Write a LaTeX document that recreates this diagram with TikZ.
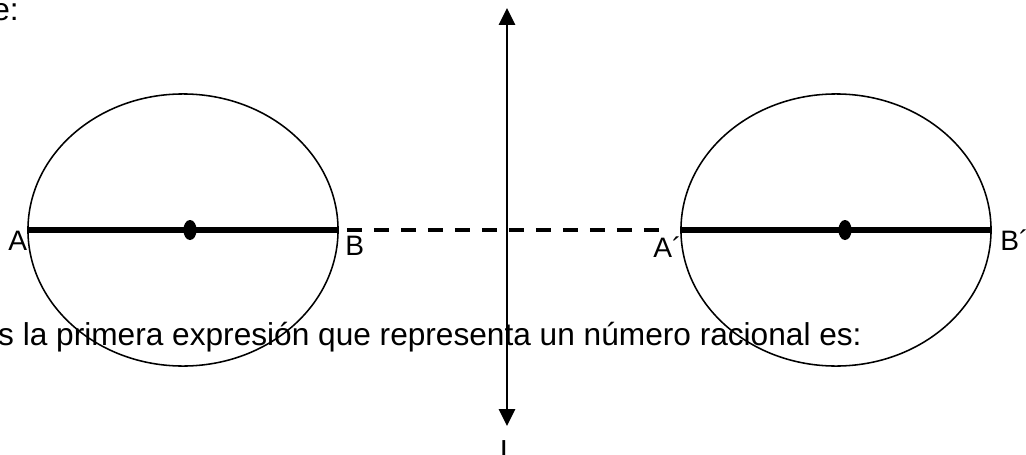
\documentclass[tikz,border=0pt]{standalone}
\usepackage{fontspec}
\setmainfont{Liberation Sans}
\usetikzlibrary{shapes.geometric,arrows.meta}

\begin{document}
\begin{tikzpicture}[x=0.025cm,y=-0.025cm,>={Triangle[width=0.4cm,length=0.42cm]}]
    \tikzstyle{ring}=[draw,ellipse,line width=1.1pt,inner sep=0pt,
      minimum width=7.75cm,minimum height=6.8cm]
    \tikzstyle{focus}=[fill,ellipse,inner sep=0pt,minimum width=0.33cm,minimum height=0.5cm]
    \tikzstyle{lbl}=[inner sep=0pt,font=\fontsize{20}{24}\selectfont]
    \tikzstyle{prose}=[inner sep=0pt,font=\fontsize{22.5}{27}\selectfont]
    \tikzstyle{rod}=[line width=3.6pt]
    \useasboundingbox (0,0) rectangle (1026,454);
    % text of the page around the figure
    \node[prose,anchor=base east] (top) at (19,20) {e:};
    \node[prose,anchor=base east] (line) at (862,345) {s la primera expresión que representa un número racional es:};
    % the two circles
    \node[ring] (lring) at (183,230) {};
    \node[ring] (rring) at (836,230) {};
    \draw[rod] (lring.west)--(lring.east);
    \draw[rod] (rring.west)--(rring.east);
    \node[focus] (ldot) at (190,230) {};
    \node[focus] (rdot) at (845,230) {};
    \draw[line width=2.6pt,dash pattern=on 0.375cm off 0.3cm,shorten <=8*0.025cm,shorten >=11*0.025cm]
      (lring.east)--(rring.west);
    % axis
    \coordinate (up) at (507,8);
    \coordinate (down) at (507,426);
    \draw[<->,line width=1.8pt] (down)--(up);
    \node[prose,anchor=north] (axis) at (504,440) {l};
    % labels
    \node[lbl,anchor=base west] (A) at (8,250) {A};
    \node[lbl,anchor=base west] (B) at (345,255) {B};
    \node[lbl,anchor=base west] (A2) at (653,257) {A´};
    \node[lbl,anchor=base west] (B2) at (1000,250) {B´};
  \end{tikzpicture}
\end{document}
